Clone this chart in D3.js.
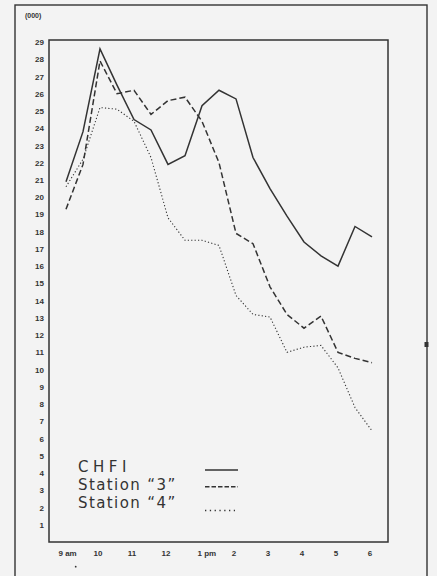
<!DOCTYPE html>
<html>
<head>
<meta charset="utf-8">
<script src="https://cdn.jsdelivr.net/npm/d3@7"></script>
<style>
  body { margin: 0; background: #f3f3f3; }
  svg { display: block; }
  .tick text { font-family: "Liberation Sans", Arial, sans-serif; font-weight: bold; font-size: 8px; fill: #333; }
</style>
</head>
<body>
<div id="viz"></div>
<script>
// half-hourly readings, 9 am to 6 pm (thousands)
var hours = [9, 9.5, 10, 10.5, 11, 11.5, 12, 12.5, 13, 13.5, 14, 14.5, 15, 15.5, 16, 16.5, 17, 17.5, 18];
var chfi     = [20.9, 23.8, 28.6, 26.5, 24.5, 23.9, 21.9, 22.4, 25.3, 26.2, 25.7, 22.3, 20.5, 18.9, 17.4, 16.6, 16.0, 18.3, 17.7];
var station3 = [19.3, 21.9, 27.9, 26.0, 26.2, 24.8, 25.6, 25.8, 24.4, 22.0, 17.9, 17.3, 14.8, 13.2, 12.4, 13.1, 11.0, 10.65, 10.4];
var station4 = [20.6, 22.2, 25.2, 25.1, 24.4, 22.3, 18.8, 17.5, 17.5, 17.2, 14.3, 13.2, 13.05, 11.0, 11.3, 11.4, 10.1, 7.8, 6.45];

var xTicks = [9, 10, 11, 12, 13, 14, 15, 16, 17, 18];
var xLabels = ["9", "10", "11", "12", "1", "2", "3", "4", "5", "6"];
var xSuffix = ["am", "", "", "", "pm", "", "", "", "", ""];
var yTicks = [1, 2, 3, 4, 5, 6, 7, 8, 9, 10, 11, 12, 13, 14, 15, 16, 17, 18, 19, 20, 21, 22, 23, 24, 25, 26, 27, 28, 29];

var seriesNames = ["CHFI", "Station \u201c3\u201d", "Station \u201c4\u201d"];
var seriesData = [chfi, station3, station4];
var seriesDash = [null, "6,3", "1.2,2.2"];

var ink = "#333";
var W = 437, H = 576;

var svg = d3.select("#viz").append("svg")
    .attr("width", W)
    .attr("height", H);

var x = d3.scaleLinear().domain([9, 18]).range([66, 372]);
var y = d3.scaleLinear().domain([0, 29]).range([542, 42]);

// outer frame
svg.append("rect")
    .attr("x", 15).attr("y", 5)
    .attr("width", 412).attr("height", 620)
    .style("fill", "none").style("stroke", ink).style("stroke-width", 1.4);
svg.append("rect")
    .attr("x", 424.5).attr("y", 342).attr("width", 4).attr("height", 5)
    .style("fill", ink);

// plot box
svg.append("rect")
    .attr("x", 49).attr("y", 40)
    .attr("width", 339).attr("height", 502)
    .style("fill", "none").style("stroke", ink).style("stroke-width", 1.5);

svg.append("text")
    .attr("x", 25).attr("y", 18)
    .style("font-family", "Liberation Sans, Arial, sans-serif")
    .style("font-weight", "bold")
    .style("font-size", "7px")
    .style("fill", ink)
    .text("(000)");

// y axis
var yAxis = svg.append("g")
    .attr("transform", "translate(49,0)")
    .call(d3.axisLeft(y).tickValues(yTicks).tickSize(0).tickPadding(5));
yAxis.select(".domain").remove();

// x axis
var xAxis = svg.append("g")
    .attr("transform", "translate(0,542)")
    .call(d3.axisBottom(x).tickValues(xTicks).tickSize(0).tickPadding(8)
        .tickFormat(function(d, i){ return xLabels[i] + (xSuffix[i] ? " " + xSuffix[i] : ""); }));
xAxis.select(".domain").remove();
xAxis.selectAll(".tick text")
    .attr("text-anchor", function(d, i){ return xSuffix[i] ? "start" : "middle"; })
    .attr("dx", function(d, i){ return xSuffix[i] ? (i == 0 ? -8 : -5) : -2.5; });

svg.append("circle")
    .attr("cx", 75.7).attr("cy", 566.7).attr("r", 0.9)
    .style("fill", ink);

// lines
var line = d3.line()
    .x(function(d, i){ return x(hours[i]); })
    .y(function(d){ return y(d); });

svg.selectAll("path.series")
    .data(seriesData)
    .enter().append("path")
    .attr("class", "series")
    .attr("d", line)
    .style("fill", "none")
    .style("stroke", ink)
    .style("stroke-width", function(d, i){ return i == 2 ? 1.1 : 1.5; })
    .style("stroke-dasharray", function(d, i){ return seriesDash[i]; });

// legend
var legendY = [472, 490, 508];
var sampleY = [470, 486.7, 510.5];
var legend = svg.selectAll("g.legend")
    .data(seriesNames)
    .enter().append("g")
    .attr("class", "legend");

legend.append("text")
    .attr("x", 78)
    .attr("y", function(d, i){ return legendY[i]; })
    .style("font-family", "DejaVu Sans, sans-serif")
    .style("font-size", "15px")
    .style("letter-spacing", function(d, i){ return i == 0 ? "4.5px" : "1.4px"; })
    .style("fill", ink)
    .text(function(d){ return d; });

legend.append("line")
    .attr("x1", 205).attr("x2", function(d, i){ return i == 2 ? 235 : 238; })
    .attr("y1", function(d, i){ return sampleY[i]; })
    .attr("y2", function(d, i){ return sampleY[i]; })
    .style("stroke", ink)
    .style("stroke-width", function(d, i){ return i == 2 ? 1.3 : 1.4; })
    .style("stroke-dasharray", function(d, i){ return i == 1 ? "4.5,2" : (i == 2 ? "1.3,3.5" : null); });
</script>
</body>
</html>
